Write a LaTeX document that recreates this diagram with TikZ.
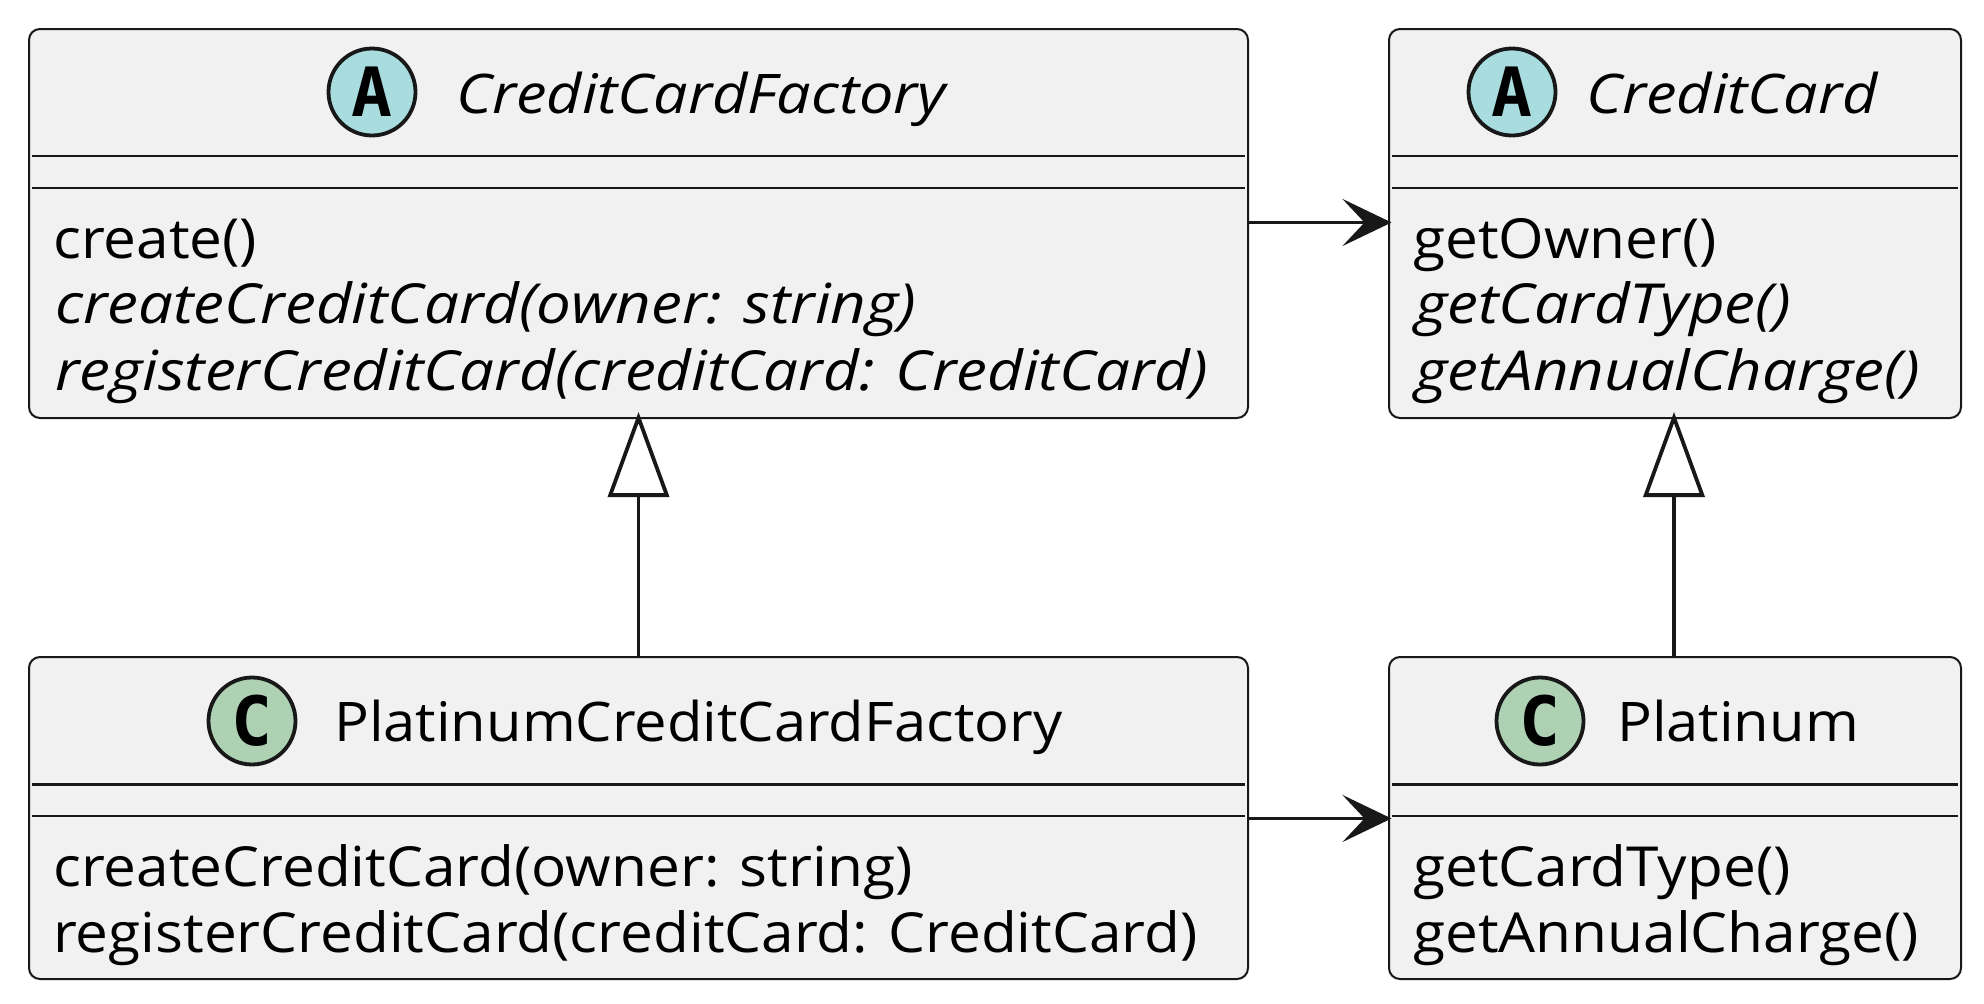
\documentclass[tikz,border=0pt]{standalone}
\usepackage{fontspec}
\setmainfont{Open Sans}[FakeStretch=1.06,ItalicFeatures={FakeStretch=1.12}]
\newfontfamily\glyphfont[BoldFont=DejaVu Sans Mono Bold]{DejaVu Sans Mono}
\usetikzlibrary{arrows.meta}
\definecolor{boxfill}{HTML}{F1F1F1}
\definecolor{inkc}{HTML}{181818}
\definecolor{absc}{HTML}{A9DCDF}
\definecolor{conc}{HTML}{ADD1B2}
\tikzset{
  umlbox/.style={draw=inkc,fill=boxfill,line width=2bp,rounded corners=11bp,anchor=north west,inner sep=0,outer sep=0},
  sepline/.style={draw=inkc,line width=2.2bp},
  badge/.style={circle,draw=inkc,line width=3.8bp,minimum size=87bp,inner sep=0,text=black,font=\glyphfont\bfseries\fontsize{68bp}{68bp}\selectfont},
  titletext/.style={anchor=base west,inner sep=0,text=black,font=\fontsize{54.6bp}{60bp}\selectfont},
  membertext/.style={anchor=base west,inner sep=0,text=black,font=\fontsize{55.2bp}{60bp}\selectfont},
  assoc/.style={draw=inkc,line width=3.8bp,-{Stealth[length=49bp,width=47bp,inset=22bp,color=inkc]}},
  extends/.style={draw=inkc,line width=3.8bp,-{Triangle[open,length=85bp,width=61bp,fill=white,color=inkc]}}
}
\begin{document}
\begin{tikzpicture}[x=1bp,y=-1bp]
\useasboundingbox (0,0) rectangle (1984,1003);
\fill[white] (0,0) rectangle (1984,1003);
% boxes
\node[umlbox,minimum width=1219bp,minimum height=389bp] (ccf) at (29,29) {};
\node[umlbox,minimum width=572bp,minimum height=389bp] (cc) at (1389,29) {};
\node[umlbox,minimum width=1219bp,minimum height=322bp] (pccf) at (29,657) {};
\node[umlbox,minimum width=572bp,minimum height=322bp] (pl) at (1389,657) {};
% separators
\coordinate (s1a) at (32,156); \coordinate (s1b) at (1245,156);
\coordinate (s2a) at (32,188); \coordinate (s2b) at (1245,188);
\coordinate (s3a) at (1392,156); \coordinate (s3b) at (1958,156);
\coordinate (s4a) at (1392,188); \coordinate (s4b) at (1958,188);
\coordinate (s5a) at (32,784.5); \coordinate (s5b) at (1245,784.5);
\coordinate (s6a) at (32,816); \coordinate (s6b) at (1245,816);
\coordinate (s7a) at (1392,784.5); \coordinate (s7b) at (1958,784.5);
\coordinate (s8a) at (1392,816); \coordinate (s8b) at (1958,816);
\foreach \k in {1,...,8} {\draw[sepline] (s\k a) -- (s\k b);}
% badges
\node[badge,fill=absc] (ba) at (372,92) {A};
\node[badge,fill=absc] (bb) at (1512,92) {A};
\node[badge,fill=conc] (bc) at (252,721) {C};
\node[badge,fill=conc] (bd) at (1540,721) {C};
% titles
\node[titletext] (t1) at (456,113) {\itshape CreditCardFactory};
\node[titletext] (t2) at (1586,113) {\itshape CreditCard};
\node[titletext] (t3) at (334,741) {PlatinumCreditCardFactory};
\node[titletext] (t4) at (1617,741) {Platinum};
% members
\node[membertext] (m1) at (53,258) {create()};
\node[membertext] (m2) at (55,323.5) {\itshape createCreditCard(owner: string)};
\node[membertext] (m3) at (55,390) {\itshape registerCreditCard(creditCard: CreditCard)};
\node[membertext] (m4) at (1413,258) {getOwner()};
\node[membertext] (m5) at (1415,323.5) {\itshape getCardType()};
\node[membertext] (m6) at (1415,390) {\itshape getAnnualCharge()};
\node[membertext] (m7) at (53,886) {createCreditCard(owner: string)};
\node[membertext] (m8) at (53,952) {registerCreditCard(creditCard: CreditCard)};
\node[membertext] (m9) at (1413,886) {getCardType()};
\node[membertext] (m10) at (1413,952) {getAnnualCharge()};
% connectors
\coordinate (a1s) at (ccf.east |- 0,222.5);
\coordinate (a1e) at (1391.5,222.5);
\draw[assoc] (a1s) -- (a1e);
\coordinate (a2s) at (pccf.east |- 0,818.5);
\coordinate (a2e) at (1391.5,818.5);
\draw[assoc] (a2s) -- (a2e);
\coordinate (e1s) at (638.5,657);
\coordinate (e1e) at (638.5,412);
\draw[extends] (e1s) -- (e1e);
\coordinate (e2s) at (1674,657);
\coordinate (e2e) at (1674,412);
\draw[extends] (e2s) -- (e2e);
\end{tikzpicture}
\end{document}
